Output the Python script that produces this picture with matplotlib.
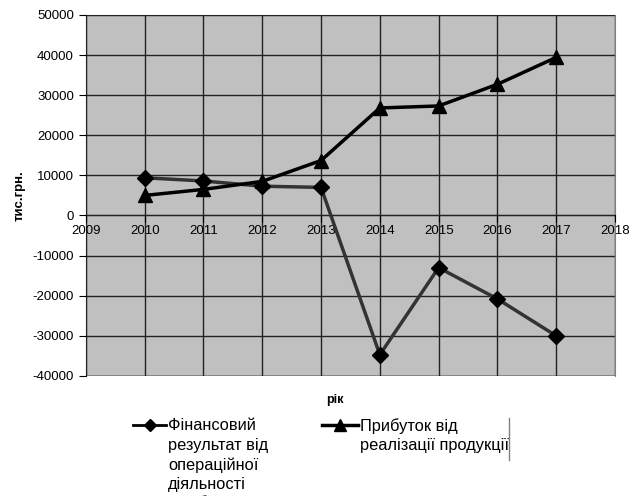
import matplotlib
matplotlib.use("Agg")
import matplotlib.pyplot as plt
from matplotlib.lines import Line2D

plt.rcParams['font.family'] = ['Liberation Sans', 'DejaVu Sans']
plt.rcParams['axes.unicode_minus'] = False

years = [2010, 2011, 2012, 2013, 2014, 2015, 2016, 2017]
fin_result = [9400, 8600, 7300, 7000, -34700, -13000, -20800, -30000]
profit = [5000, 6500, 8500, 13700, 26800, 27300, 32700, 39400]

label_fin = "Фінансовий\nрезультат від\nопераційної\nдіяльності"
label_profit = "Прибуток від\nреалізації продукції"

W, H = 636, 496
fig = plt.figure(figsize=(W / 100, H / 100), dpi=100)
ax = fig.add_axes([0.135, 0.242, 0.832, 0.728])
ax.set_facecolor('#c0c0c0')

ax.plot(years, fin_result, color='#333333', lw=2.5, marker='D', ms=8,
        mfc='black', mec='black', zorder=3)
ax.plot(years, profit, color='black', lw=2.5, marker='^', ms=10,
        mfc='black', mec='black', zorder=3)

ax.set_xlim(2009, 2018)
ax.set_ylim(-40000, 50000)
ax.set_xticks(range(2009, 2019))
ax.set_yticks(range(-40000, 50001, 10000))
ax.grid(True, color='#222222', lw=1, zorder=1)
ax.set_axisbelow(False)

ax.spines['bottom'].set_position(('data', 0))
ax.spines['bottom'].set_color('black')
ax.spines['left'].set_color('black')
for s in ['top', 'right']:
    ax.spines[s].set_color('#808080')
# lower border of the plot area
ax.axhline(-40000, color='#a0a0a0', lw=1.5, zorder=2)

ax.tick_params(axis='both', labelsize=9.5, direction='out', length=5, color='black')
ax.tick_params(axis='x', pad=2)

ax.set_ylabel("тис.грн.", fontsize=9.5, fontweight='bold', labelpad=5)
fig.text(335 / W, 1 - 400 / H, "рік", fontsize=9, fontweight='bold',
         ha='center', va='center')


# legend drawn by hand (text aligned to the first line, like Excel)
def px(x, y):
    return x / W, 1 - y / H


def entry(x0, x1, y, text, marker, ms, lw):
    xa, ya = px(x0, y)
    xb, _ = px(x1, y)
    fig.add_artist(Line2D([xa, xb], [ya, ya], color='black', lw=lw,
                          transform=fig.transFigure))
    fig.add_artist(Line2D([(xa + xb) / 2], [ya], marker=marker, ms=ms,
                          color='black', transform=fig.transFigure))
    tx, ty = px(x1 + 2, y - 7)
    fig.text(tx, ty, text, fontsize=11.8, va='top', ha='left', linespacing=1.38)


entry(133, 166, 425, label_fin, 'D', 6, 2)
entry(322, 358, 425, label_profit, '^', 9, 2.5)
entry(133, 166, 502, label_profit, '^', 6, 0.8)

# thin border fragment next to the legend
fig.add_artist(Line2D([509 / W, 509 / W], [1 - 418 / H, 1 - 460 / H],
                      color='#808080', lw=1, transform=fig.transFigure))

fig.savefig("out.png", dpi=100)
